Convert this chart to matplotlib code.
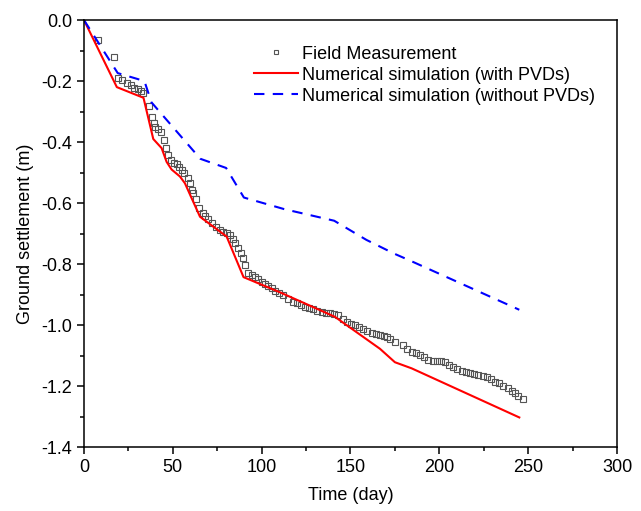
import matplotlib
matplotlib.use("Agg")
import matplotlib.pyplot as plt
from matplotlib.ticker import MultipleLocator

plt.rcParams['axes.unicode_minus'] = False
plt.rcParams['font.family'] = ['Liberation Sans', 'DejaVu Sans']
plt.rcParams['font.size'] = 13

# field measurement (day, settlement m)
meas_t = [8.1, 17.1, 19.3, 21.6, 24, 26.3, 28.3, 30.6, 32.1, 33, 36.7, 38.2, 39.4, 40, 41.5,
          43.3, 45.2, 46.1, 47.5, 49, 50.8, 52.5, 53.6, 55, 56.5, 58.3, 59.7, 60.6, 61.5, 63.2,
          64.9, 66.8, 68.1, 70, 71.9, 74.3, 76.5, 78.4, 80.6, 82.2, 83.7, 85, 86.8, 88.2,
          89.3, 90.6, 92.5, 94.4, 96.2, 98.1, 100, 101.9, 103.7, 105.6, 107.6, 109.8, 112.2,
          115, 117.4, 119.7, 121.9, 124.4, 126.8, 129, 131.3, 133.8, 136.2, 138.4, 140.7,
          143.1, 145.6, 147.8, 150.3, 152.5, 154.9, 157.2, 159.4, 161.9, 164.3, 166.6, 168.8,
          170.7, 172.2, 175, 179.7, 182, 184.4, 186.8, 189.1, 191.5, 193.8, 196.2, 198.5,
          200.9, 203.2, 205.6, 207.8, 210.1, 212.5, 215, 217.2, 219.5, 221.9, 224.4, 226.6,
          228.9, 231.3, 233.7, 236, 238.4, 240.7, 242.5, 244.4, 246.9]
meas_s = [-0.066, -0.120, -0.191, -0.195, -0.206, -0.213, -0.224, -0.226, -0.233, -0.240,
          -0.282, -0.317, -0.336, -0.352, -0.358, -0.366, -0.393, -0.421, -0.443, -0.459,
          -0.468, -0.472, -0.481, -0.492, -0.503, -0.519, -0.533, -0.557, -0.568, -0.587,
          -0.617, -0.632, -0.643, -0.653, -0.665, -0.678, -0.689, -0.694, -0.699, -0.705,
          -0.719, -0.732, -0.749, -0.763, -0.781, -0.803, -0.831, -0.836, -0.844, -0.850,
          -0.858, -0.866, -0.872, -0.880, -0.887, -0.895, -0.902, -0.916, -0.924, -0.929,
          -0.934, -0.940, -0.945, -0.949, -0.953, -0.956, -0.960, -0.962, -0.964, -0.967,
          -0.981, -0.989, -0.997, -1.000, -1.006, -1.014, -1.019, -1.025, -1.030, -1.033,
          -1.036, -1.040, -1.047, -1.055, -1.066, -1.080, -1.088, -1.093, -1.098, -1.106,
          -1.115, -1.117, -1.117, -1.117, -1.122, -1.131, -1.139, -1.145, -1.150, -1.153,
          -1.156, -1.161, -1.164, -1.167, -1.171, -1.178, -1.186, -1.191, -1.200, -1.208,
          -1.215, -1.224, -1.233, -1.243]

# numerical simulation with PVDs
pvd_t = [0, 18.5, 33.5, 39, 43.7, 46.5, 49.3, 54, 56.8, 60.5, 65.3, 80.3, 89.8, 110.4,
         141.2, 166.6, 175, 184.4, 245]
pvd_s = [0, -0.220, -0.255, -0.390, -0.420, -0.465, -0.490, -0.513, -0.535, -0.583, -0.645,
         -0.710, -0.843, -0.893, -0.973, -1.078, -1.122, -1.142, -1.303]

# numerical simulation without PVDs
nopvd_t = [0, 19, 34, 38, 65.5, 80, 90, 112.7, 140.8, 159, 174.6, 184, 245]
nopvd_s = [0, -0.174, -0.200, -0.270, -0.455, -0.485, -0.582, -0.620, -0.658, -0.721,
           -0.766, -0.790, -0.950]

fig = plt.figure(figsize=(6.41, 5.11), dpi=100)
ax = fig.add_axes([0.131, 0.1252, 0.8316, 0.8356])

ax.plot(meas_t, meas_s, linestyle='none', marker='s', markersize=4.8,
        markerfacecolor='none', markeredgecolor='#555555', markeredgewidth=0.8,
        label='Field Measurement')
ax.plot(pvd_t, pvd_s, color='#ff0000', linewidth=1.5,
        label='Numerical simulation (with PVDs)')
ax.plot(nopvd_t, nopvd_s, color='#0000ff', linewidth=1.5, dashes=(5, 4),
        label='Numerical simulation (without PVDs)')

ax.set_xlim(0, 300)
ax.set_ylim(-1.4, 0.0)
ax.xaxis.set_major_locator(MultipleLocator(50))
ax.xaxis.set_minor_locator(MultipleLocator(25))
ax.yaxis.set_major_locator(MultipleLocator(0.2))
ax.yaxis.set_minor_locator(MultipleLocator(0.1))
ax.yaxis.set_major_formatter(plt.FormatStrFormatter('%.1f'))
ax.tick_params(which='both', direction='out', top=False, right=False, width=1.1)
ax.tick_params(which='major', length=5)
ax.tick_params(which='minor', length=3)
for sp in ax.spines.values():
    sp.set_linewidth(1.1)

ax.set_xlabel('Time (day)', labelpad=8)
ax.set_ylabel('Ground settlement (m)', labelpad=5)

ax.legend(loc='upper left', bbox_to_anchor=(0.319, 0.94), frameon=False,
          borderpad=0, borderaxespad=0, handlelength=2.45, handletextpad=0.2,
          labelspacing=0.22, markerscale=0.65)

fig.savefig('out.png', dpi=100)
